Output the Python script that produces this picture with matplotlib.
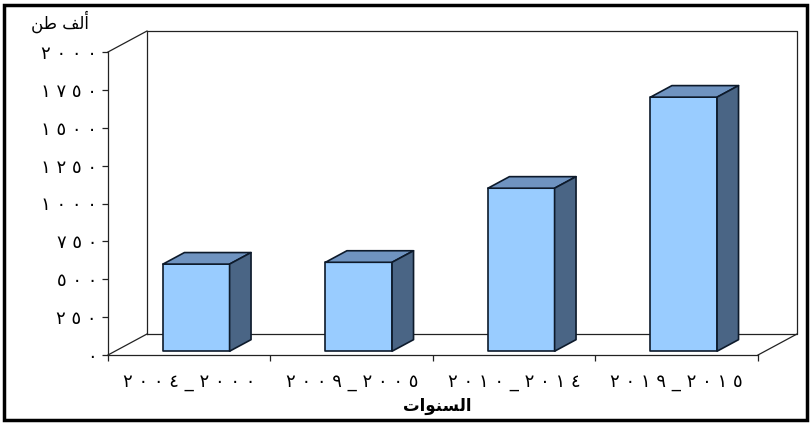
import matplotlib
matplotlib.use('Agg')
import matplotlib.pyplot as plt
from matplotlib.patches import Polygon, Rectangle

plt.rcParams['font.family'] = ['DejaVu Sans']

# data (thousand tonnes)
periods = ['٢٠٠٤_٢٠٠٠', '٢٠٠٩_٢٠٠٥', '٢٠١٠_٢٠١٤', '٢٠١٩_٢٠١٥']
values = [575, 587, 1076, 1677]
y_ticks = [0, 250, 500, 750, 1000, 1250, 1500, 1750, 2000]
y_labels = ['٠', '٢٥٠', '٥٠٠', '٧٥٠', '١٠٠٠', '١٢٥٠', '١٥٠٠', '١٧٥٠', '٢٠٠٠']
# Arabic text in visual order with presentation forms (no shaping in matplotlib)
unit_label = '\uFEE6\uFEC3 \uFED2\uFEDF\uFE83'      # ألف طن
x_title = '\uFE95\uFE8D\uFEEE\uFEE8\uFEB4\uFEDF\uFE8D'  # السنوات

FRONT = '#99CCFF'
TOP = '#6F93C0'
SIDE = '#4A6585'
EDGE = '#0d1a2b'


def spaced(s):
    # the original font sets Arabic-Indic digits far apart
    return ' '.join(s)


W, H = 812, 424
fig = plt.figure(figsize=(W / 100, H / 100), dpi=100)
# front plane of the box: x 108..758 px, y 52..355 px
ax = fig.add_axes([108 / W, (H - 355) / H, 650 / W, 303 / H])
ax.set_xlim(-0.5, len(periods) - 0.5)
ax.set_ylim(0, 2000)

# depth of the box in data units (39 px right, 21 px up)
DX = 39 / 162.5
DY = 21 / (303 / 2000)

x0, x1 = -0.5, len(periods) - 0.5
line_kw = dict(color='#222222', lw=0.9, clip_on=False, zorder=1)
# back wall
ax.plot([x0 + DX, x1 + DX, x1 + DX, x0 + DX, x0 + DX],
        [DY, DY, 2000 + DY, 2000 + DY, DY], **line_kw)
# floor and side wall diagonals
ax.plot([x0, x0 + DX], [0, DY], **line_kw)
ax.plot([x1, x1 + DX], [0, DY], **line_kw)
ax.plot([x0, x0 + DX], [2000, 2000 + DY], **line_kw)

# 3D looking bars
bw = 0.41
f0, fd = 0.18, 0.55
for i, v in enumerate(values):
    bx = i - bw / 2 + f0 * DX
    by = f0 * DY
    ddx, ddy = fd * DX, fd * DY
    kw = dict(edgecolor=EDGE, lw=1.2, clip_on=False, zorder=3, joinstyle='round')
    ax.add_patch(Rectangle((bx, by), bw, v, facecolor=FRONT, **kw))
    ax.add_patch(Polygon([(bx, by + v), (bx + bw, by + v),
                          (bx + bw + ddx, by + v + ddy), (bx + ddx, by + v + ddy)],
                         closed=True, facecolor=TOP, **kw))
    ax.add_patch(Polygon([(bx + bw, by), (bx + bw + ddx, by + ddy),
                          (bx + bw + ddx, by + v + ddy), (bx + bw, by + v)],
                         closed=True, facecolor=SIDE, **kw))

# axes
for s in ['top', 'right']:
    ax.spines[s].set_visible(False)
for s in ['left', 'bottom']:
    ax.spines[s].set_color('#222222')
    ax.spines[s].set_linewidth(0.9)
ax.set_yticks(y_ticks)
ax.set_yticklabels([spaced(t) for t in y_labels], fontsize=13)
ax.set_xticks(range(len(periods)))
ax.set_xticklabels([spaced(p) for p in periods], fontsize=13)
ax.set_xticks([k - 0.5 for k in range(len(periods) + 1)], minor=True)
ax.tick_params(axis='x', which='major', length=0, pad=13)
ax.tick_params(axis='x', which='minor', length=4, width=0.9, color='#222222')
ax.tick_params(axis='y', length=4, width=0.9, color='#222222', pad=4)
ax.set_facecolor('none')

fig.text(60 / W, 1 - 22 / H, unit_label, ha='center', va='center', fontsize=12)
fig.text(437 / W, 1 - 406 / H, x_title, ha='center', va='center',
         fontsize=12, fontweight='bold')

# outer frame
fig.patches.append(Rectangle((4.5 / W, 4.5 / H), (W - 9) / W, (H - 9) / H,
                             transform=fig.transFigure, fill=False,
                             edgecolor='black', lw=2.5))

fig.savefig('out.png', dpi=100)
